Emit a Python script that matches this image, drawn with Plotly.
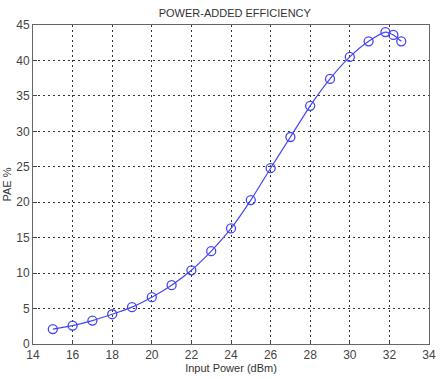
import plotly.graph_objects as go

pin_dbm = [15, 16, 17, 18, 19, 20, 21, 22, 23, 24, 25, 26, 27, 28, 29, 30, 30.95, 31.8, 32.2, 32.6]
pae_pct = [2.1, 2.6, 3.3, 4.2, 5.2, 6.6, 8.3, 10.4, 13.1, 16.3, 20.3, 24.8, 29.2, 33.6, 37.4, 40.5, 42.7, 44.0, 43.6, 42.7]

x_ticks = [14, 16, 18, 20, 22, 24, 26, 28, 30, 32, 34]
y_ticks = [0, 5, 10, 15, 20, 25, 30, 35, 40, 45]

line_color = "#4646f2"

fig = go.Figure()
fig.add_trace(go.Scatter(
    x=pin_dbm, y=pae_pct, mode="lines+markers",
    line=dict(color=line_color, width=1.2, shape="spline", smoothing=0.6),
    marker=dict(symbol="circle-open", size=9, color=line_color, line=dict(width=1.3, color=line_color)),
    showlegend=False,
))

axis_common = dict(
    showgrid=True, gridcolor="#333333", griddash="2px,3px", gridwidth=1.3,
    showline=True, linecolor="#666666", linewidth=1, mirror=True,
    ticks="inside", ticklen=4, tickcolor="#444444",
    tickfont=dict(family="Liberation Sans, Arial", size=12, color="#444444"),
    zeroline=False,
)

fig.update_layout(
    width=443, height=379,
    margin=dict(l=33, r=7, t=25, b=33),
    paper_bgcolor="white", plot_bgcolor="white",
    title=dict(text="POWER-ADDED EFFICIENCY", x=0.53, xanchor="center", y=0.965, yanchor="middle",
               font=dict(family="Liberation Sans, Arial", size=11, color="#333333")),
    xaxis=dict(range=[14, 34], tickvals=x_ticks,
               title=dict(text="Input Power (dBm)", standoff=2,
                          font=dict(family="Liberation Sans, Arial", size=11, color="#333333")),
               **axis_common),
    yaxis=dict(range=[0, 45], tickvals=y_ticks,
               title=dict(text="PAE %", standoff=2,
                          font=dict(family="Liberation Sans, Arial", size=11, color="#333333")),
               **axis_common),
)

fig.write_html("out.html")
